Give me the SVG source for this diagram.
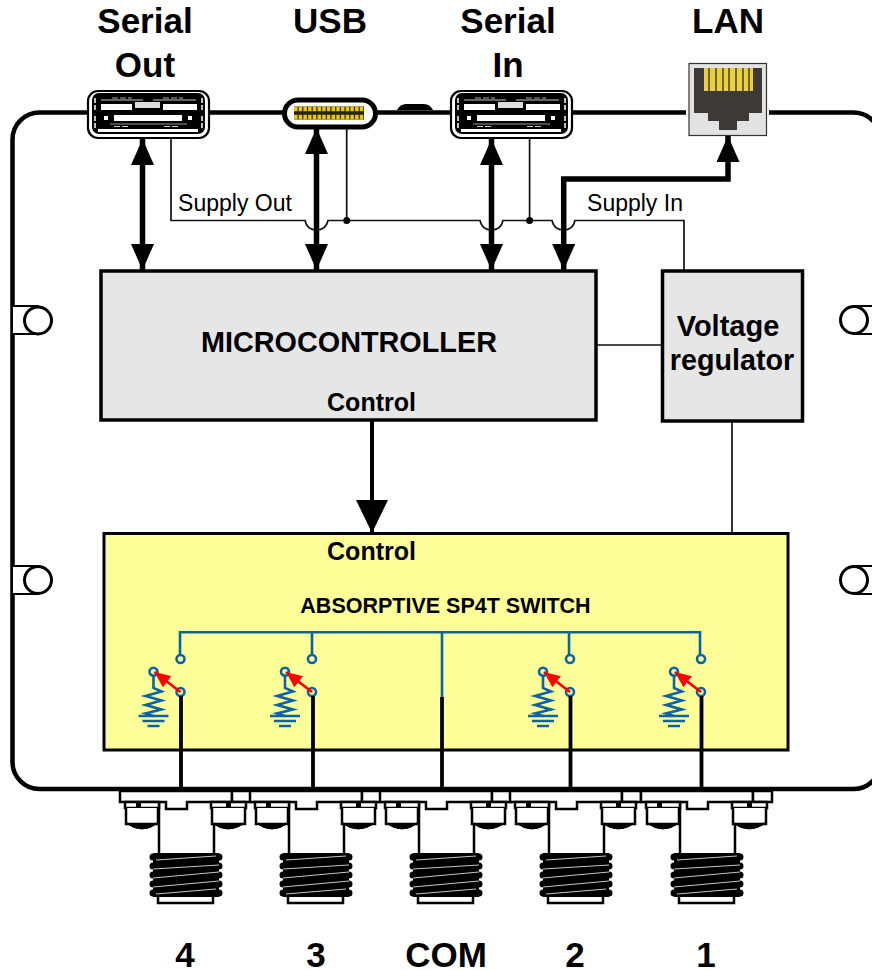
<svg xmlns="http://www.w3.org/2000/svg" width="872" height="970" viewBox="0 0 872 970">
<style>
text{font-family:"Liberation Sans",Arial,sans-serif;fill:#000;text-anchor:middle}
.t{font-size:35px;font-weight:700}
.b{fill:#e6e6e6;stroke:#000;stroke-width:3.5}
.w{fill:#fff;stroke:#000;stroke-width:2.5}
.thin{fill:none;stroke:#111;stroke-width:1.7}
.thick{fill:none;stroke:#000;stroke-width:5.500}
.blue{fill:none;stroke:#0a62a8;stroke-width:2.600}
</style>
<defs>
<marker id="ah" viewBox="0 0 26 23" refX="26" refY="11.5" markerWidth="26" markerHeight="23" markerUnits="userSpaceOnUse" orient="auto-start-reverse"><path d="M0,0L26,11.5L0,23Z" fill="#000"/></marker>
<marker id="ahb" viewBox="0 0 33 32" refX="33" refY="16" markerWidth="33" markerHeight="32" markerUnits="userSpaceOnUse" orient="auto"><path d="M0,0L33,16L0,32Z" fill="#000"/></marker>
<marker id="ahr" viewBox="0 0 16 14" refX="16" refY="7" markerWidth="16" markerHeight="14" markerUnits="userSpaceOnUse" orient="auto"><path d="M0,0L16,7L0,14Z" fill="#f00"/></marker>
<g id="serial">
<rect x="1" y="1" width="121" height="47" rx="10" fill="#fff" stroke="#000" stroke-width="2.200"/>
<rect x="5" y="3" width="113" height="41" rx="7" fill="#000"/>
<rect x="14" y="14" width="31" height="6" fill="#fff"/>
<rect x="76" y="14" width="34" height="6" fill="#fff"/>
<rect x="48" y="12" width="25" height="6" fill="#ddd"/>
<rect x="27" y="25" width="68" height="6" fill="#fff"/>
<rect x="17" y="26" width="4" height="4" fill="#fff"/>
<rect x="101" y="26" width="4" height="4" fill="#fff"/>
<rect x="11" y="39" width="100" height="3" fill="#fff"/>
<path d="M8,8V20M8,26V38M115,8V20M115,26V38" stroke="#fff" stroke-width="1.500" stroke-dasharray="5 2"/>
<path d="M25,8H45M76,8H96" stroke="#aaa" stroke-width="1" stroke-dasharray="6 2"/>
<path d="M14,10H56M66,10H109" stroke="#fff" stroke-width="0.800"/>
<path d="M23,34H100" stroke="#999" stroke-width="1"/>
<path d="M27,36.500H42M77,36.500H92" stroke="#ccc" stroke-width="1" stroke-dasharray="6 2"/>
</g>
<g id="sw">
<circle cx="27" cy="27" r="4" class="blue"/>
<circle cx="0" cy="39.700" r="4" class="blue"/>
<circle cx="27" cy="60" r="4" class="blue"/>
<path class="blue" d="M0,44V56L8,59.500L-8,64L8,68.500L-8,73L8,77.500L-8,81.500L0,84"/>
<path class="blue" d="M-15,84H15M-11,89H11M-6,94H6"/>
<path d="M27,60L1,40" stroke="#f00" stroke-width="2.800" fill="none" marker-end="url(#ahr)"/>
</g>
<g id="sma">
<path class="w" d="M-27,13V64M28,13V64"/>
<path class="w" d="M-66,2H46V13H1V20H-20V13H-66Z"/>
<path class="w" d="M46,2H65V13H46Z"/>
<path class="w" d="M-61,13H-27V19H-61ZM25,13H60V19H25Z"/>
<path class="w" d="M-60,19V35H-28V19M26,19V35H59V19"/>
<path d="M-50,13H-45V19H-50ZM40,13H45V19H40Z" fill="#000"/>
<path d="M-60,34Q-44,46 -28,34Q-44,38 -60,34ZM26,34Q42,46 59,34Q42,38 26,34Z" fill="#000" stroke="#000" stroke-width="1"/>
<path d="M-46,40V37M-39,40V37M40,40V37M47,40V37" stroke="#000" stroke-width="1"/>
<path class="w" d="M-28,106V114H27V106"/>
<path d="M-33,68H33M-33,77H33M-33,86H33M-33,95H33M-33,104H33" stroke="#000" stroke-width="7" stroke-linecap="round"/>
<rect x="-33" y="64" width="66" height="44" fill="#000"/>
<path d="M-30,71L30,67M-33,80L33,76M-33,89L33,83M-33,98L33,92M-30,105L30,100" stroke="#ddd" stroke-width="0.900" fill="none"/>
</g>
</defs>

<g id="enclosure">
<rect x="12.500" y="112.500" width="868" height="676.500" rx="27" fill="#fff" stroke="#000" stroke-width="4.500"/>
</g>
<g id="ear-left-top">
<path d="M12,306H38V334H12Z" fill="#fff" stroke="#000" stroke-width="2"/><circle cx="38" cy="320.500" r="13.500" fill="#fff" stroke="#000" stroke-width="3"/>
</g>
<g id="ear-left-bottom">
<path d="M12,566H38V594H12Z" fill="#fff" stroke="#000" stroke-width="2"/><circle cx="38" cy="580" r="13.500" fill="#fff" stroke="#000" stroke-width="3"/>
</g>
<g id="ear-right-top">
<path d="M872,306H854V334H872" fill="#fff" stroke="#000" stroke-width="2"/><circle cx="854" cy="320" r="13.500" fill="#fff" stroke="#000" stroke-width="3"/>
</g>
<g id="ear-right-bottom">
<path d="M872,566H854V594H872" fill="#fff" stroke="#000" stroke-width="2"/><circle cx="854" cy="580" r="13.500" fill="#fff" stroke="#000" stroke-width="3"/>
</g>
<g id="port-bump"><path d="M397,110Q400,104 406,104H424Q430,104 433,110Z" fill="#000"/></g>

<g id="connectors">
<path class="thin" d="M171,138V220.500H305Q307,230 316.500,230Q326,230 328,220.500H480Q482,230 491.500,230Q501,230 503,220.500H552Q554,230 563.700,230Q573,230 575,220.500H684V271"/>
<path class="thin" d="M346.700,128V220.500M529.600,138V220.500"/>
<circle cx="346.700" cy="220.500" r="3.500" fill="#000"/><circle cx="529.600" cy="220.500" r="3.500" fill="#000"/>
<path class="thin" d="M597,345H662M732,421V533"/>
<path class="thick" d="M142.500,139V270" marker-start="url(#ah)" marker-end="url(#ah)"/>
<path class="thick" d="M316.500,128V270" marker-start="url(#ah)" marker-end="url(#ah)"/>
<path class="thick" d="M491.500,139V270" marker-start="url(#ah)" marker-end="url(#ah)"/>
<path class="thick" d="M563.700,270V179H728V136" marker-start="url(#ah)" marker-end="url(#ah)"/>
<path d="M372,421V533" fill="none" stroke="#000" stroke-width="4" marker-end="url(#ahb)"/>
</g>

<g id="serial-out"><use href="#serial" x="87" y="90"/></g>
<g id="usb">
<rect x="284.500" y="100" width="91" height="27" rx="13.500" fill="#fff" stroke="#000" stroke-width="5"/>
<rect x="294" y="106.500" width="70" height="13" fill="#222"/>
<path d="M294,109H364M294,117H364" stroke="#eec900" stroke-width="4.500" stroke-dasharray="3.500 1.200"/>
</g>
<g id="serial-in"><use href="#serial" x="450" y="90"/></g>
<g id="lan">
<rect x="686" y="108" width="83" height="9" fill="#fff"/>
<rect x="689" y="63.500" width="77.500" height="72" fill="#e2e2e2" stroke="#333" stroke-width="1.200"/>
<path d="M694,68H762V113H749V121H737V130H719V121H708V113H694Z" fill="#3c3a38"/>
<rect x="704" y="68" width="49" height="23" fill="#e8d040"/>
<path d="M709,68V91M716,68V91M723,68V91M729,68V91M736,68V91M743,68V91M749,68V91" stroke="#222" stroke-width="1.200"/>
</g>

<g id="microcontroller">
<rect class="b" x="101" y="271" width="495" height="149"/>
<text x="349" y="352" font-size="28.800" font-weight="700">MICROCONTROLLER</text>
<text x="371.500" y="411" font-size="25" font-weight="700">Control</text>
</g>
<g id="voltage-regulator">
<rect class="b" x="662.500" y="271" width="140" height="150"/>
<text x="728" y="336" font-size="29" font-weight="700">Voltage</text>
<text x="732" y="370" font-size="28.700" font-weight="700">regulator</text>
</g>
<g id="switch">
<rect x="104" y="533.500" width="684" height="216.500" fill="#ffff99" stroke="#000" stroke-width="3"/>
<text x="371.500" y="560" font-size="25" font-weight="700">Control</text>
<text x="445.500" y="613" font-size="21.500" font-weight="700">ABSORPTIVE SP4T SWITCH</text>
<path class="blue" d="M180,655V632.300H700V655M312,632.300V655M569,632.300V655M442,632.300V697"/>
<use href="#sw" x="153.500" y="632"/>
<use href="#sw" x="285" y="632"/>
<use href="#sw" x="543" y="632"/>
<use href="#sw" x="674" y="632"/>
</g>
<g id="rf-lines" stroke="#000" stroke-width="3.800" fill="none">
<path d="M181,696V789M313,696V789M442,697V789M570.500,696V789M701.500,696V789"/>
</g>
<g id="port-4"><use href="#sma" x="186" y="789"/></g>
<g id="port-3"><use href="#sma" x="316" y="789"/></g>
<g id="port-com"><use href="#sma" x="446" y="789"/></g>
<g id="port-2"><use href="#sma" x="576" y="789"/></g>
<g id="port-1"><use href="#sma" x="707" y="789"/></g>

<g id="labels">
<text class="t" x="145" y="33">Serial</text><text class="t" x="145" y="77">Out</text>
<text class="t" x="330" y="33">USB</text>
<text class="t" x="508" y="33">Serial</text><text class="t" x="508" y="77">In</text>
<text class="t" x="728" y="33">LAN</text>
<text x="235" y="211" font-size="23">Supply Out</text>
<text x="635" y="211" font-size="23">Supply In</text>
<text class="t" x="185" y="967">4</text><text class="t" x="316" y="967">3</text><text class="t" x="446" y="967">COM</text><text class="t" x="575" y="967">2</text><text class="t" x="706" y="967">1</text>
</g>
</svg>
